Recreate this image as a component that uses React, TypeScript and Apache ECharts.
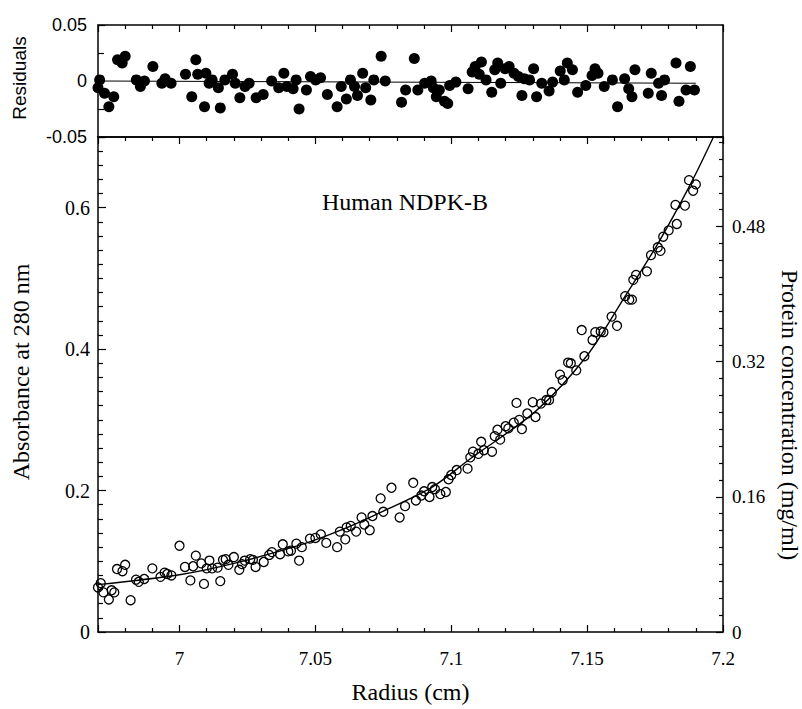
import React, { useEffect, useRef } from "react";
import * as echarts from "echarts";

// Residual panel (filled dots)
const residualRadius = [
  6.9706, 6.9700, 6.9724, 6.9740, 6.9758, 6.9772, 6.9789, 6.9800, 6.9841, 6.9856,
  6.9871, 6.9902, 6.9935, 6.9947, 6.9969, 7.0022, 7.0045, 7.0060, 7.0067, 7.0092,
  7.0097, 7.0109, 7.0120, 7.0143, 7.0150, 7.0167, 7.0195, 7.0205, 7.0222, 7.0241,
  7.0256, 7.0282, 7.0308, 7.0339, 7.0365, 7.0384, 7.0395, 7.0418, 7.0429, 7.0440,
  7.0467, 7.0482, 7.0501, 7.0519, 7.0544, 7.0580, 7.0595, 7.0614, 7.0629, 7.0644,
  7.0655, 7.0674, 7.0685, 7.0704, 7.0715, 7.0742, 7.0757, 7.0817, 7.0832, 7.0864,
  7.0877, 7.0902, 7.0926, 7.0934, 7.0945, 7.0956, 7.0975, 7.0987, 7.0994, 7.1017,
  7.1062, 7.1077, 7.1088, 7.1103, 7.1111, 7.1128, 7.1149, 7.1160, 7.1171, 7.1182,
  7.1198, 7.1213, 7.1231, 7.1247, 7.1260, 7.1269, 7.1288, 7.1303, 7.1314, 7.1333,
  7.1360, 7.1373, 7.1401, 7.1416, 7.1427, 7.1446, 7.1465, 7.1495, 7.1518, 7.1529,
  7.1540, 7.1563, 7.1593, 7.1612, 7.1638, 7.1653, 7.1665, 7.1676, 7.1725, 7.1736,
  7.1763, 7.1774, 7.1785, 7.1827, 7.1838, 7.1864, 7.1880, 7.1895,
];
const residualValue = [
  0.001, -0.006, -0.011, -0.023, -0.014, 0.019, 0.016, 0.022, 0.001, -0.005,
  0.0, 0.013, -0.002, 0.002, -0.002, 0.006, -0.014, 0.019, 0.006, -0.023,
  0.007, -0.002, 0.001, -0.006, -0.024, 0.001, 0.006, -0.002, -0.015, -0.005,
  -0.002, -0.015, -0.012, 0.0, -0.006, 0.007, -0.005, -0.007, 0.001, -0.025,
  -0.008, 0.004, 0.001, 0.003, -0.012, -0.023, -0.005, -0.016, 0.001, -0.005,
  -0.013, 0.007, -0.006, -0.017, 0.001, 0.022, 0.0, -0.019, -0.008, 0.02,
  -0.008, -0.002, 0.0, -0.006, -0.014, -0.008, -0.018, -0.02, -0.004, -0.001,
  -0.007, 0.008, 0.013, 0.006, 0.017, 0.001, -0.01, 0.01, 0.016, -0.002,
  0.011, 0.013, 0.007, 0.004, -0.013, 0.002, 0.001, 0.011, -0.014, -0.002,
  -0.009, -0.001, 0.009, 0.001, 0.016, 0.01, -0.01, -0.004, 0.005, 0.011,
  0.007, -0.005, 0.001, -0.023, 0.002, -0.007, -0.014, 0.01, -0.011, 0.007,
  -0.002, -0.013, 0.001, 0.016, -0.018, -0.008, 0.013, -0.008,
];
const residualLineRadius = [6.97, 7.19];
const residualLineValue = [0.0, -0.002];

// Main panel (open circles)
const absorbanceRadius = [
  6.970, 6.971, 6.972, 6.974, 6.975, 6.976, 6.977, 6.979, 6.980, 6.982,
  6.984, 6.985, 6.987, 6.990, 6.993, 6.9945, 6.9955, 6.997, 7.000, 7.002,
  7.004, 7.005, 7.006, 7.008, 7.009, 7.010, 7.011, 7.012, 7.014, 7.015,
  7.016, 7.017, 7.018, 7.020, 7.022, 7.023, 7.024, 7.026, 7.027, 7.028,
  7.031, 7.033, 7.034, 7.037, 7.038, 7.040, 7.041, 7.043, 7.044, 7.045,
  7.048, 7.050, 7.052, 7.054, 7.058, 7.059, 7.061, 7.0615, 7.063, 7.065,
  7.067, 7.068, 7.070, 7.071, 7.074, 7.075, 7.078, 7.081, 7.083, 7.086,
  7.087, 7.089, 7.090, 7.092, 7.093, 7.094, 7.096, 7.098, 7.099, 7.100,
  7.102, 7.106, 7.107, 7.108, 7.110, 7.111, 7.112, 7.115, 7.116, 7.117,
  7.118, 7.120, 7.121, 7.123, 7.124, 7.125, 7.126, 7.128, 7.130, 7.131,
  7.133, 7.135, 7.136, 7.137, 7.140, 7.141, 7.143, 7.144, 7.146, 7.148,
  7.149, 7.152, 7.153, 7.155, 7.156, 7.159, 7.161, 7.164, 7.1655, 7.1665,
  7.167, 7.168, 7.172, 7.1735, 7.176, 7.177, 7.178, 7.180, 7.1825, 7.183,
  7.186, 7.1875, 7.189, 7.190,
];
const absorbanceValue = [
  0.063, 0.069, 0.056, 0.046, 0.059, 0.056, 0.089, 0.086, 0.095, 0.045,
  0.074, 0.071, 0.075, 0.090, 0.078, 0.084, 0.082, 0.080, 0.122, 0.092,
  0.073, 0.093, 0.108, 0.097, 0.068, 0.090, 0.101, 0.090, 0.091, 0.072,
  0.102, 0.103, 0.095, 0.106, 0.088, 0.096, 0.101, 0.103, 0.102, 0.092,
  0.099, 0.109, 0.113, 0.110, 0.124, 0.114, 0.115, 0.125, 0.101, 0.120,
  0.132, 0.133, 0.138, 0.126, 0.120, 0.142, 0.131, 0.148, 0.150, 0.142,
  0.162, 0.152, 0.144, 0.164, 0.189, 0.170, 0.204, 0.162, 0.178, 0.211,
  0.186, 0.193, 0.199, 0.191, 0.205, 0.202, 0.195, 0.198, 0.216, 0.222,
  0.229, 0.231, 0.247, 0.255, 0.252, 0.269, 0.257, 0.255, 0.277, 0.286,
  0.272, 0.291, 0.288, 0.296, 0.324, 0.300, 0.287, 0.309, 0.325, 0.304,
  0.323, 0.328, 0.328, 0.339, 0.364, 0.356, 0.381, 0.380, 0.370, 0.427,
  0.390, 0.413, 0.424, 0.425, 0.424, 0.446, 0.433, 0.475, 0.470, 0.470,
  0.498, 0.505, 0.510, 0.533, 0.544, 0.539, 0.559, 0.568, 0.604, 0.577,
  0.603, 0.639, 0.624, 0.633,
];

// Fitted curve
const fitRadius = [6.97, 7.0, 7.02, 7.046, 7.06, 7.075, 7.093, 7.107, 7.131, 7.15, 7.164, 7.176, 7.188, 7.1965];
const fitAbsorbance = [0.067, 0.081, 0.097, 0.125, 0.145, 0.171, 0.205, 0.245, 0.312, 0.391, 0.475, 0.549, 0.633, 0.7];

const SERIF = "'Liberation Serif', 'Times New Roman', Times, serif";
const SANS = "'Liberation Sans', Arial, Helvetica, sans-serif";

const lineStyle = { color: "#000", width: 1.5 };

function xAxisCfg(gridIndex: number, position: "top" | "bottom", ticks: boolean, labels: boolean) {
  return {
    type: "value",
    gridIndex,
    position,
    min: 6.97,
    max: 7.2,
    splitNumber: 5,
    axisLine: { show: true, onZero: false, lineStyle },
    axisTick: { show: ticks, inside: true, length: 7, lineStyle: { color: "#000", width: 1.2 } },
    minorTick: { show: ticks, splitNumber: 5, length: 4, lineStyle: { color: "#000", width: 1.2 } },
    axisLabel: {
      show: labels,
      showMinLabel: false,
      margin: 17,
      color: "#000",
      fontFamily: SERIF,
      fontSize: 19,
    },
    splitLine: { show: false },
    minorSplitLine: { show: false },
  };
}

const option = {
  animation: false,
  backgroundColor: "#fff",
  grid: [
    { left: 98, right: 79, top: 25, height: 112 },
    { left: 98, right: 79, top: 137, bottom: 70 },
  ],
  xAxis: [
    xAxisCfg(0, "bottom", false, false),
    xAxisCfg(0, "top", true, false),
    { ...xAxisCfg(1, "bottom", true, true), name: "Radius (cm)", nameLocation: "middle", nameGap: 48,
      nameTextStyle: { color: "#000", fontFamily: SERIF, fontSize: 24 } },
    xAxisCfg(1, "top", true, false),
  ],
  yAxis: [
    {
      type: "value",
      gridIndex: 0,
      position: "left",
      min: -0.05,
      max: 0.05,
      interval: 0.05,
      axisLine: { show: true, onZero: false, lineStyle },
      axisTick: { show: true, inside: true, length: 7, lineStyle: { color: "#000", width: 1.2 } },
      minorTick: { show: true, splitNumber: 2, length: 6, lineStyle: { color: "#000", width: 1.2 } },
      axisLabel: { color: "#000", fontFamily: SANS, fontSize: 18, margin: 11 },
      splitLine: { show: false },
    },
    {
      type: "value",
      gridIndex: 0,
      position: "right",
      min: -0.05,
      max: 0.05,
      interval: 0.05,
      axisLine: { show: true, onZero: false, lineStyle },
      axisTick: { show: false },
      axisLabel: { show: false },
      splitLine: { show: false },
    },
    {
      type: "value",
      gridIndex: 1,
      position: "left",
      min: 0,
      max: 0.7,
      interval: 0.2,
      axisLine: { show: true, onZero: false, lineStyle },
      axisTick: { show: true, inside: true, length: 8, lineStyle: { color: "#000", width: 1.2 } },
      minorTick: { show: true, splitNumber: 10, length: 5, lineStyle: { color: "#000", width: 1.2 } },
      axisLabel: { color: "#000", fontFamily: SERIF, fontSize: 20, margin: 8, showMaxLabel: false },
      splitLine: { show: false },
    },
    {
      type: "value",
      gridIndex: 1,
      position: "right",
      min: 0,
      max: 0.586,
      interval: 0.16,
      axisLine: { show: true, onZero: false, lineStyle },
      axisTick: { show: true, inside: true, length: 7, lineStyle: { color: "#000", width: 1.2 } },
      minorTick: { show: true, splitNumber: 8, length: 4, lineStyle: { color: "#000", width: 1.2 } },
      axisLabel: { color: "#000", fontFamily: SERIF, fontSize: 19, margin: 9, showMaxLabel: false },
      splitLine: { show: false },
    },
  ],
  graphic: [
    {
      type: "text",
      x: 19,
      y: 78,
      rotation: Math.PI / 2,
      style: { text: "Residuals", fill: "#000", fontFamily: SANS, fontSize: 19, align: "center", verticalAlign: "middle" },
    },
    {
      type: "text",
      x: 21,
      y: 372,
      rotation: Math.PI / 2,
      style: { text: "Absorbance at 280 nm", fill: "#000", fontFamily: SERIF, fontSize: 24, align: "center", verticalAlign: "middle" },
    },
    {
      type: "text",
      x: 790,
      y: 415,
      rotation: -Math.PI / 2,
      style: { text: "Protein concentration (mg/ml)", fill: "#000", fontFamily: SERIF, fontSize: 24, align: "center", verticalAlign: "middle" },
    },
    {
      type: "text",
      x: 322,
      y: 202,
      style: { text: "Human NDPK-B", fill: "#000", fontFamily: SERIF, fontSize: 24, align: "left", verticalAlign: "middle" },
    },
  ],
  series: [
    {
      type: "line",
      xAxisIndex: 0,
      yAxisIndex: 0,
      data: residualLineRadius.map((x, i) => [x, residualLineValue[i]]),
      symbol: "none",
      lineStyle: { color: "#000", width: 1 },
    },
    {
      type: "scatter",
      xAxisIndex: 0,
      yAxisIndex: 0,
      data: residualRadius.map((x, i) => [x, residualValue[i]]),
      symbol: "circle",
      symbolSize: 11,
      itemStyle: { color: "#000", opacity: 1 },
    },
    {
      type: "line",
      xAxisIndex: 2,
      yAxisIndex: 2,
      data: fitRadius.map((x, i) => [x, fitAbsorbance[i]]),
      symbol: "none",
      smooth: 0.3,
      lineStyle: { color: "#000", width: 1.4 },
    },
    {
      type: "scatter",
      xAxisIndex: 2,
      yAxisIndex: 2,
      data: absorbanceRadius.map((x, i) => [x, absorbanceValue[i]]),
      symbol: "circle",
      symbolSize: 9,
      itemStyle: { color: "rgba(255,255,255,0)", borderColor: "#000", borderWidth: 1.3, opacity: 1 },
    },
  ],
};

export default function App() {
  const ref = useRef<HTMLDivElement>(null);
  useEffect(() => {
    document.body.style.margin = "0";
    const chart = echarts.init(ref.current as HTMLDivElement, null, { renderer: "svg" });
    chart.setOption(option as any);
    return () => chart.dispose();
  }, []);
  return <div ref={ref} style={{ width: 802, height: 709 }} />;
}
